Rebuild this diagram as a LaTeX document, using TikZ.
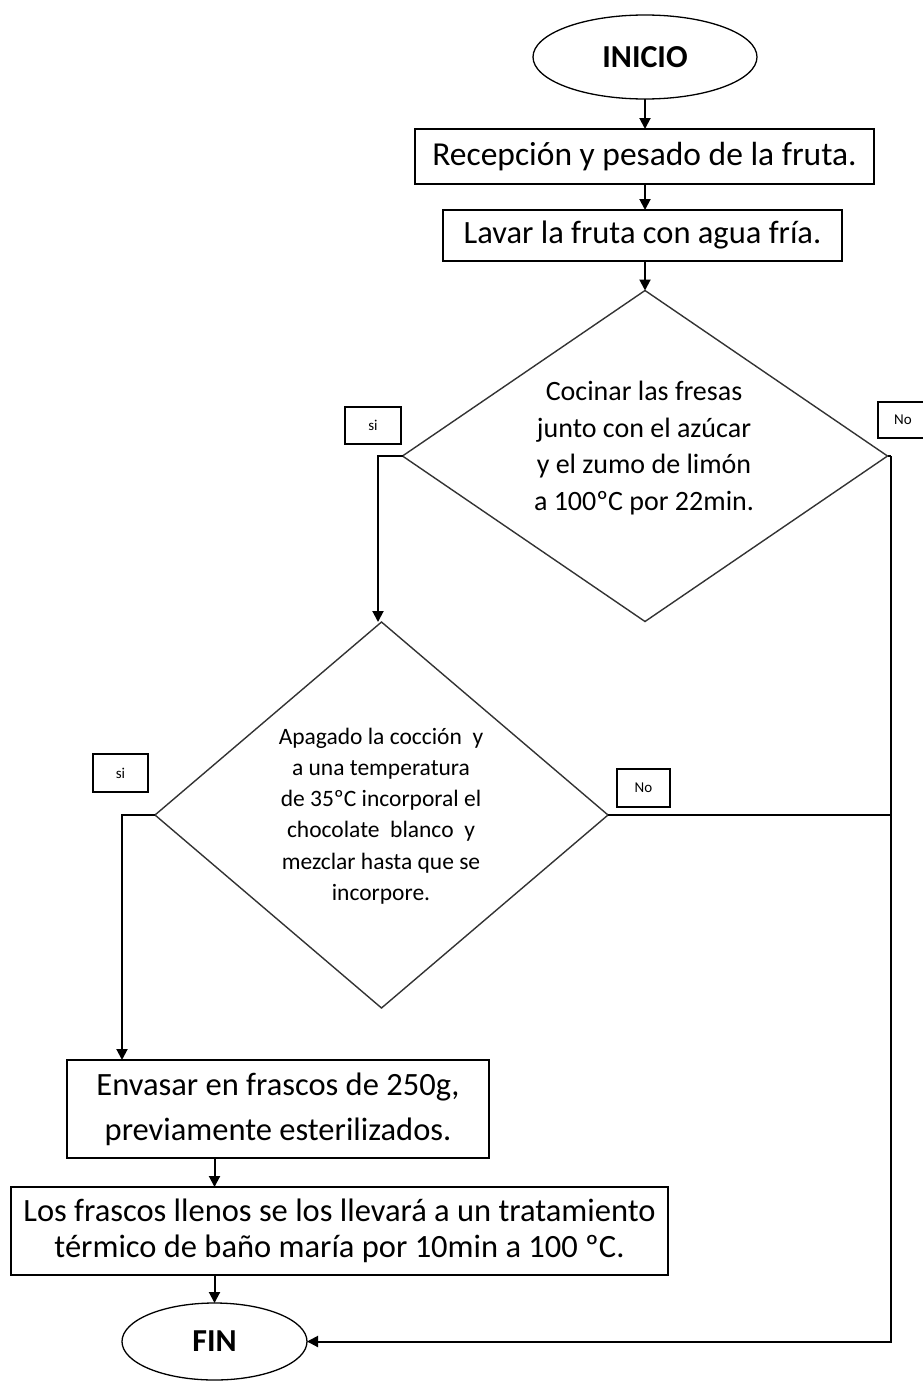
\documentclass[tikz,border=0pt]{standalone}
\usepackage{fontspec}
\setmainfont{Carlito}
\usetikzlibrary{shapes.geometric,arrows.meta}
\begin{document}
\begin{tikzpicture}[x=1pt,y=-1pt,
  every node/.style={inner sep=0pt,outer sep=0pt},
  terminal/.style={ellipse,draw,line width=1.3pt,font=\fontsize{32}{36}\selectfont\bfseries},
  procbox/.style={rectangle,draw,line width=2pt,align=center,font=\fontsize{32.5}{36}\selectfont},
  decision/.style={diamond,draw,line width=1.4pt,draw=black!80},
  answer/.style={rectangle,draw,line width=1.8pt,font=\fontsize{15}{18}\selectfont},
  link/.style={line width=2pt},
  arr/.style={line width=2pt,-{Triangle[length=11pt,width=11pt]}}]
\useasboundingbox (0,0) rectangle (923,1381);

% start / end
\node[terminal,minimum width=224,minimum height=84] (inicio) at (645,57) {INICIO};
\node[terminal,minimum width=185,minimum height=77] (fin) at (214.5,1341.5) {FIN};

% process steps
\node[procbox,minimum width=459,minimum height=55,font=\fontsize{33.5}{36}\selectfont] (b1) at (644.5,156.5) {Recepción y pesado de la fruta.};
\node[procbox,minimum width=399,minimum height=51] (b2) at (642.5,235.5) {Lavar la fruta con agua fría.};
\node[procbox,minimum width=422,minimum height=98,font=\fontsize{32.5}{45}\selectfont] (b3) at (278,1109)
  {Envasar en frascos de 250g,\\previamente esterilizados.};
\node[procbox,minimum width=657,minimum height=88] (b4) at (339.5,1231)
  {Los frascos llenos se los llevará a un tratamiento\\térmico de baño maría por 10min a 100 ºC.};

% decisions
\node[decision,minimum width=485,minimum height=331] (d1) at (645,456) {};
\node[align=center,font=\fontsize{28}{36.7}\selectfont] (t1) at (644,448)
  {Cocinar las fresas\\junto con el azúcar\\y el zumo de limón\\a 100ºC por 22min.};
\node[decision,minimum width=453,minimum height=386] (d2) at (381.5,815) {};
\node[align=center,font=\fontsize{23.5}{31.2}\selectfont] (t2) at (381,816)
  {Apagado la cocción\ \ y\\a una temperatura\\de 35ºC incorporal\ el\\chocolate\ \ blanco\ \ y\\mezclar hasta que se\\incorpore.};

% branch labels
\node[answer,minimum width=56,minimum height=37] (si1) at (373,425.5) {si};
\node[answer,minimum width=55,minimum height=38] (si2) at (120.5,773) {si};
\node[answer,minimum width=50,minimum height=36] (no1) at (903,420) {No};
\node[answer,minimum width=53,minimum height=38] (no2) at (643.5,788) {No};

% bend points
\coordinate (k1) at (378,456);
\coordinate (k2) at (122,815);
\coordinate (kr) at (891,456);

% connectors
\draw[arr] (inicio.south) -- (inicio.south |- b1.north);
\draw[arr] (inicio.south |- b1.south) -- (inicio.south |- b2.north);
\draw[arr] (inicio.south |- b2.south) -- (d1.north);
\draw[arr] (d1.west) -- (k1) -- (k1 |- d2.north);
\draw[arr] (d2.west) -- (k2) -- (k2 |- b3.north);
\draw[arr] (b3.south -| fin.north) -- (b4.north -| fin.north);
\draw[arr] (b4.south -| fin.north) -- (fin.north);
\draw[link] (d1.east) -- (kr);
\draw[arr] (kr) -- (kr |- fin.east) -- (fin.east);
\draw[link] (d2.east) -- (d2.east -| kr);
\end{tikzpicture}
\end{document}
